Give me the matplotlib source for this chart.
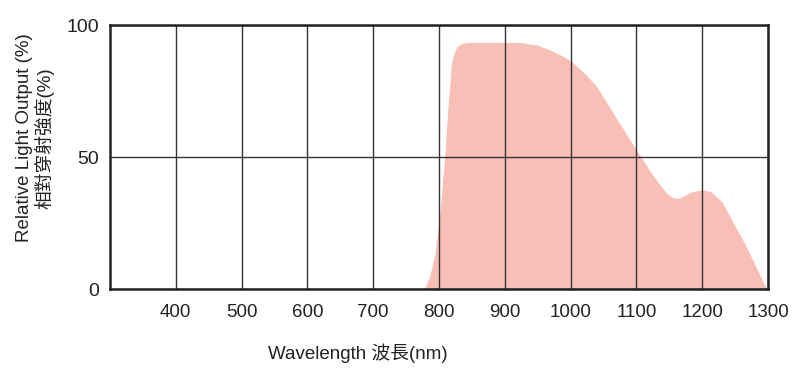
import matplotlib
matplotlib.use("Agg")
import matplotlib.pyplot as plt
import numpy as np

plt.rcParams['font.family'] = ['Liberation Sans', 'Noto Sans CJK TC', 'DejaVu Sans']

wavelength = [778, 786, 794, 802, 809, 814, 819, 823, 827, 833, 840, 850, 880, 923, 950, 969, 990, 1002, 1020,
              1040, 1070, 1100, 1125, 1146, 1156, 1164, 1172, 1181, 1192, 1201, 1212, 1219, 1230, 1265, 1298]
output = [0, 5, 13.6, 30, 51.5, 70, 85.6, 89.5, 91.6, 92.8, 93.3, 93.4, 93.4, 93.4, 92.3, 90.5, 88, 86, 82,
          76.6, 64.5, 52.6, 43, 36.2, 34.6, 34.3, 35.2, 36.5, 37.3, 37.5, 37.0, 35.6, 33, 17, 0]

xticks = [400, 500, 600, 700, 800, 900, 1000, 1100, 1200, 1300]
yticks = [0, 50, 100]

fig = plt.figure(figsize=(8, 3.75), dpi=100)
ax = fig.add_axes([110/800, 1-289/375, 658/800, 264/375])

ax.fill_between(wavelength, output, 0, color='#F8BFB6', linewidth=0, zorder=1)

ax.set_xlim(300, 1300)
ax.set_ylim(0, 100)
ax.set_xticks(xticks)
ax.set_yticks(yticks)
ax.grid(True, color='#333333', linewidth=1.0, zorder=2)
ax.set_axisbelow(False)
for s in ax.spines.values():
    s.set_linewidth(1.8)
    s.set_color('#222222')
    s.set_zorder(3)

ax.tick_params(axis='x', length=0, pad=11, labelsize=13.5, colors='#222222')
ax.tick_params(axis='y', length=0, pad=8, labelsize=14, colors='#222222')

ax.set_xlabel('Wavelength 波長(nm)', fontsize=13.5, color='#222222')
ax.xaxis.set_label_coords(0.377, -0.205)
ax.set_ylabel('Relative Light Output (%)\n相對穿射強度(%)', fontsize=13.5, color='#222222',
              linespacing=1.05)
ax.yaxis.set_label_coords(-0.085, 0.572)

fig.savefig('out.png', dpi=100)
